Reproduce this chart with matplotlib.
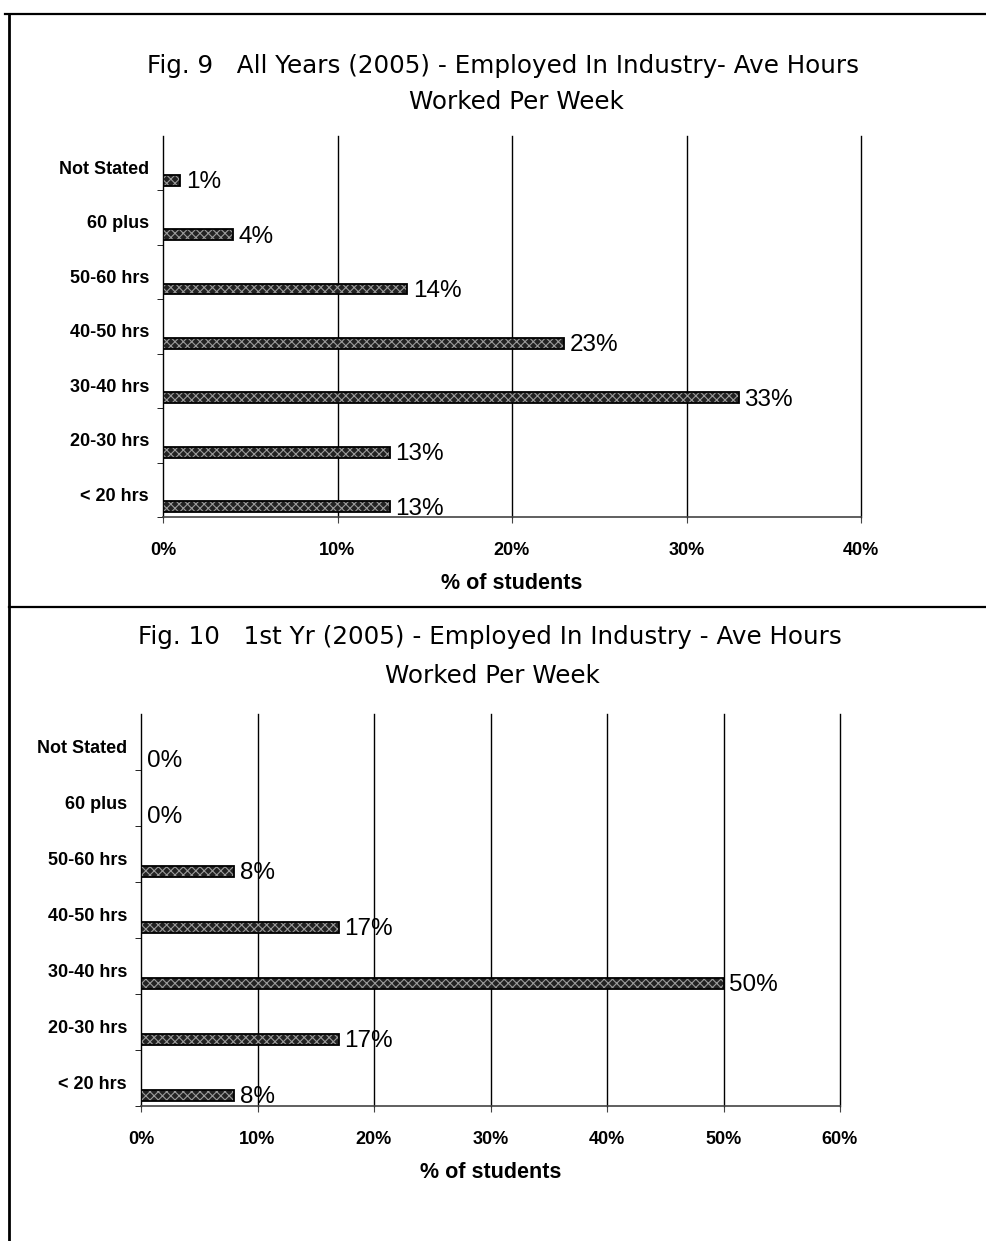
import numpy as np
import matplotlib
matplotlib.use("Agg")
import matplotlib.pyplot as plt
from matplotlib.lines import Line2D
from matplotlib.ticker import FixedLocator

categories = ["< 20 hrs", "20-30 hrs", "30-40 hrs", "40-50 hrs",
              "50-60 hrs", "60 plus", "Not Stated"]

# percent of students, bottom category first
all_years = [13, 13, 33, 23, 14, 4, 1]
first_year = [8, 17, 50, 17, 8, 0, 0]

title9 = ["Fig. 9   All Years (2005) - Employed In Industry- Ave Hours",
          "Worked Per Week"]
title10 = ["Fig. 10   1st Yr (2005) - Employed In Industry - Ave Hours",
           "Worked Per Week"]

W, H = 986, 1241
fig = plt.figure(figsize=(W / 100, H / 100), dpi=100)
plt.rcParams["font.family"] = ["Liberation Sans", "DejaVu Sans"]
plt.rcParams["hatch.linewidth"] = 0.8


def px_axes(left, top, right, bottom):
    return fig.add_axes([left / W, 1 - bottom / H, (right - left) / W, (bottom - top) / H])


def draw_panel(ax, values, xmax):
    y = np.arange(len(categories))
    ypos = y - 0.31
    # stippled fill, then a black outline on top
    ax.barh(ypos, values, height=0.2, color="#222222", edgecolor="#9a9a9a",
            hatch="xxxx", linewidth=0, zorder=3)
    ax.barh(ypos, values, height=0.2, fill=False, edgecolor="black",
            linewidth=1.3, zorder=4)
    for yp, v in zip(ypos, values):
        ax.annotate(f"{v}%", (v, yp), xytext=(4, -1.5), textcoords="offset points",
                    va="center", ha="left", fontsize=17.5, zorder=5)

    ax.set_xlim(0, xmax)
    ax.set_ylim(-0.5, len(categories) - 0.5)
    xt = np.arange(0, xmax + 1, 10)
    ax.set_xticks(xt)
    ax.set_xticklabels([f"{t}%" for t in xt], fontsize=13, fontweight="bold")
    ax.set_yticks(y - 0.08)
    ax.set_yticklabels(categories, fontsize=13, fontweight="bold")
    ax.yaxis.set_minor_locator(FixedLocator(np.arange(-0.5, len(categories) - 0.5, 1)))
    ax.tick_params(axis="y", which="major", length=0, pad=10)
    ax.tick_params(axis="y", which="minor", length=4, direction="out")
    ax.tick_params(axis="x", which="major", length=4, direction="out", pad=14,
                   color="#444444")
    ax.set_xlabel("% of students", fontsize=15.5, fontweight="bold", labelpad=10)

    for t in xt[1:]:
        ax.axvline(t, color="black", linewidth=1, zorder=2, clip_on=False)
    for s in ("top", "right"):
        ax.spines[s].set_visible(False)
    ax.spines["left"].set_color("black")
    ax.spines["left"].set_linewidth(1)
    ax.spines["bottom"].set_color("#444444")
    ax.spines["bottom"].set_linewidth(1.2)


ax1 = px_axes(163, 136, 861, 517)
draw_panel(ax1, all_years, 40)

ax2 = px_axes(141, 714, 840, 1106)
draw_panel(ax2, first_year, 60)

# figure titles
tfont = dict(fontsize=17.7, family=["DejaVu Sans"], ha="center", va="center")
fig.text(503 / W, 1 - 66 / H, title9[0], **tfont)
fig.text(516 / W, 1 - 102 / H, title9[1], **tfont)
fig.text(490 / W, 1 - 637 / H, title10[0], **tfont)
fig.text(492 / W, 1 - 676 / H, title10[1], **tfont)

# page frame lines
fig.add_artist(Line2D([5 / W, 1], [1 - 14 / H, 1 - 14 / H], color="black", lw=1.6))
fig.add_artist(Line2D([9 / W, 9 / W], [1 - 14 / H, 0], color="black", lw=2))
fig.add_artist(Line2D([9 / W, 1], [1 - 607 / H, 1 - 607 / H], color="black", lw=1.6))

fig.savefig("out.png", dpi=100)
